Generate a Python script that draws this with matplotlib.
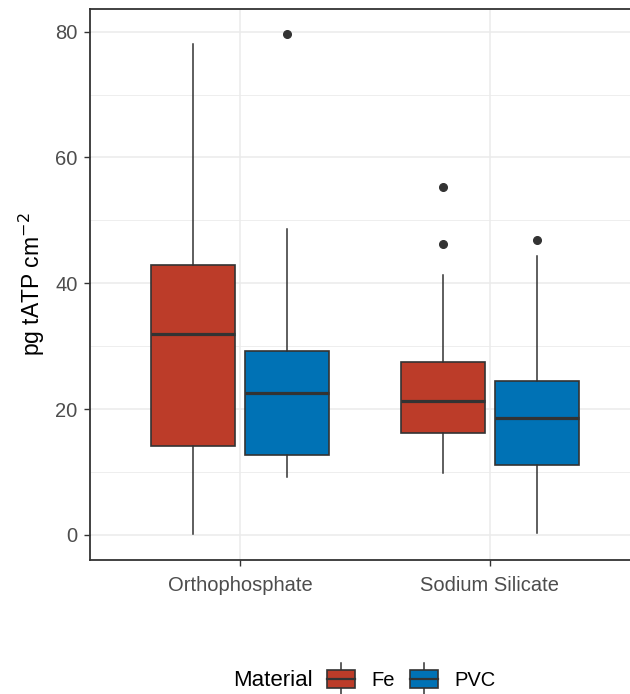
import matplotlib
matplotlib.use("Agg")
import matplotlib.pyplot as plt
from matplotlib.legend_handler import HandlerBase
from matplotlib.patches import Rectangle, Patch
from matplotlib.lines import Line2D

plt.rcParams['font.family'] = ['Liberation Sans', 'DejaVu Sans']

treatments = ["Orthophosphate", "Sodium Silicate"]
materials = ["Fe", "PVC"]
fill_colors = ["#BC3C29", "#0072B5"]

# Fe statistics per treatment
fe_whislo = [0.2, 9.9]
fe_q1 = [14.1, 16.2]
fe_med = [32.0, 21.3]
fe_q3 = [42.9, 27.5]
fe_whishi = [78.0, 41.3]
fe_fliers = [[], [55.3, 46.3]]

# PVC statistics per treatment
pvc_whislo = [9.2, 0.3]
pvc_q1 = [12.7, 11.1]
pvc_med = [22.6, 18.6]
pvc_q3 = [29.3, 24.5]
pvc_whishi = [48.7, 44.4]
pvc_fliers = [[79.6], [46.9]]

yticks = [0, 20, 40, 60, 80]

EDGE = "#333333"

fig = plt.figure(figsize=(6.3, 6.94), dpi=100)
ax = fig.add_axes([90/630, 1 - 560/694, 550/630, 551/694])

def make_stats(wl, q1, med, q3, wh, fl):
    return [dict(whislo=wl[i], q1=q1[i], med=med[i], q3=q3[i], whishi=wh[i], fliers=fl[i])
            for i in range(len(wl))]

dodge = 0.1875
width = 0.3375
groups = [
    (make_stats(fe_whislo, fe_q1, fe_med, fe_q3, fe_whishi, fe_fliers), -dodge, fill_colors[0]),
    (make_stats(pvc_whislo, pvc_q1, pvc_med, pvc_q3, pvc_whishi, pvc_fliers), dodge, fill_colors[1]),
]
for stats, off, col in groups:
    pos = [i + 1 + off for i in range(len(treatments))]
    ax.bxp(stats, positions=pos, widths=width, patch_artist=True, showcaps=False,
           boxprops=dict(facecolor=col, edgecolor=EDGE, linewidth=1.2),
           medianprops=dict(color=EDGE, linewidth=2.3, solid_capstyle='butt'),
           whiskerprops=dict(color=EDGE, linewidth=1.1),
           flierprops=dict(marker='o', markerfacecolor=EDGE, markeredgecolor=EDGE, markersize=5.5),
           manage_ticks=False, zorder=3)

ax.set_xlim(0.4, 2.6)
ax.set_ylim(-3.98, 83.6)
ax.set_xticks([1, 2])
ax.set_xticklabels(treatments)
ax.set_yticks(yticks)
ax.set_yticks([10, 30, 50, 70], minor=True)
ax.tick_params(axis='both', which='major', colors=EDGE, labelcolor="#4D4D4D",
               labelsize=14.5, length=4.5, width=1.0, pad=4.5)
ax.tick_params(axis='x', which='major', pad=7)
ax.tick_params(axis='y', which='minor', length=0)
ax.grid(True, which='major', color="#EBEBEB", linewidth=1.1, zorder=0)
ax.grid(True, which='minor', axis='y', color="#EBEBEB", linewidth=0.6, zorder=0)
ax.set_axisbelow(True)
for s in ax.spines.values():
    s.set_color(EDGE)
    s.set_linewidth(1.3)
ax.set_ylabel("pg tATP cm$^{-2}$", fontsize=16.5, color="black", labelpad=6)


class BoxHandler(HandlerBase):
    def create_artists(self, legend, orig_handle, xdescent, ydescent, width, height, fontsize, trans):
        col = orig_handle.get_facecolor()
        bh = height * 0.95
        y0 = -ydescent + (height - bh) / 2
        rect = Rectangle((-xdescent, y0), width, bh, facecolor=col, edgecolor=EDGE,
                         linewidth=1.2, transform=trans)
        xm = -xdescent + width / 2
        med = Line2D([-xdescent, -xdescent + width], [y0 + bh / 2, y0 + bh / 2],
                     color=EDGE, linewidth=1.6, transform=trans)
        w1 = Line2D([xm, xm], [y0 + bh, y0 + bh + 0.4 * height], color=EDGE, linewidth=1.1, transform=trans)
        w2 = Line2D([xm, xm], [y0, y0 - 0.4 * height], color=EDGE, linewidth=1.1, transform=trans)
        return [w1, w2, rect, med]


handles = [Patch(facecolor=c) for c in fill_colors]
leg = fig.legend(handles, materials, handler_map={Patch: BoxHandler()},
                 loc='center left', bbox_to_anchor=(327/630, 1 - 680/694), ncol=2,
                 frameon=False, fontsize=14.5, handlelength=1.4, handleheight=1.0,
                 handletextpad=0.8, columnspacing=0.75, borderpad=0, borderaxespad=0)
fig.text(233/630, 1 - 681/694, "Material", fontsize=16, ha='left', va='center')

fig.savefig("out.png", dpi=100)
